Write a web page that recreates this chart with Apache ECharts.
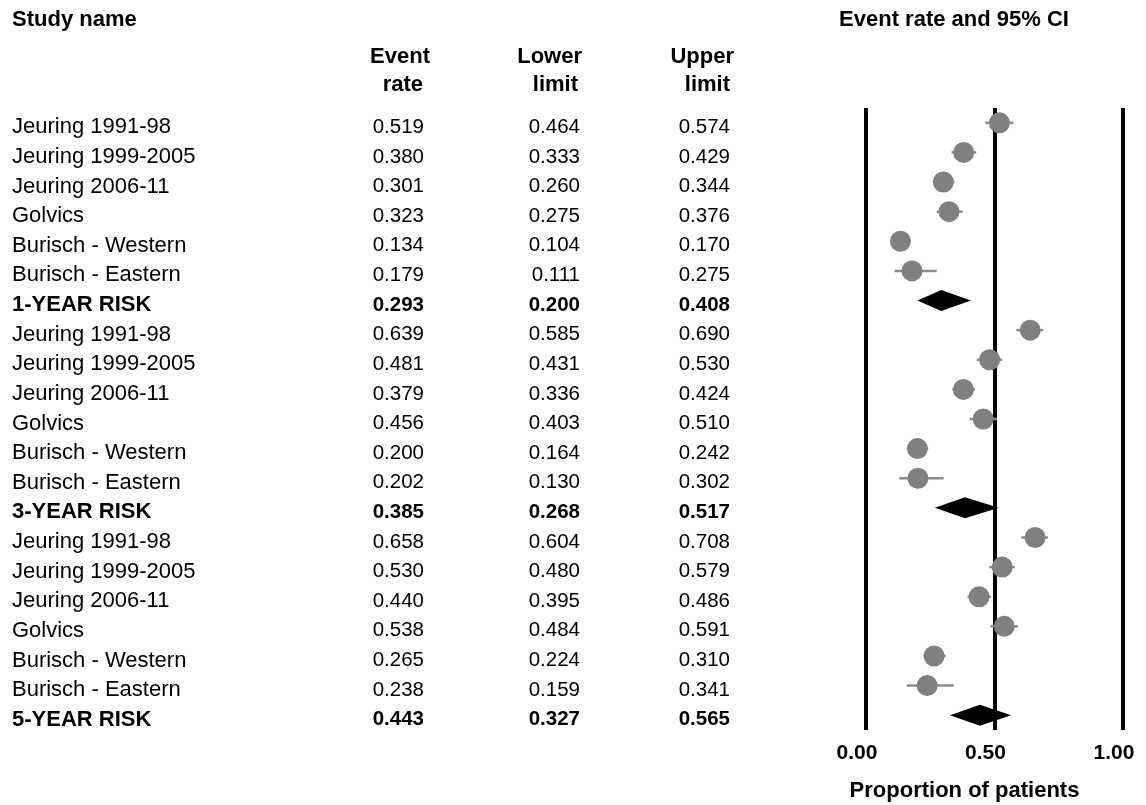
<!DOCTYPE html>
<html>
<head>
<meta charset="utf-8">
<script src="https://cdn.jsdelivr.net/npm/echarts@6/dist/echarts.min.js"></script>
<style>
html,body{margin:0;padding:0;background:#fff;}
#chart{width:1146px;height:805px;}
</style>
</head>
<body>
<div id="chart"></div>
<script>
const studyNames = [
  "Jeuring 1991-98","Jeuring 1999-2005","Jeuring 2006-11","Golvics","Burisch - Western","Burisch - Eastern","1-YEAR RISK",
  "Jeuring 1991-98","Jeuring 1999-2005","Jeuring 2006-11","Golvics","Burisch - Western","Burisch - Eastern","3-YEAR RISK",
  "Jeuring 1991-98","Jeuring 1999-2005","Jeuring 2006-11","Golvics","Burisch - Western","Burisch - Eastern","5-YEAR RISK"
];
const isSummary = [0,0,0,0,0,0,1, 0,0,0,0,0,0,1, 0,0,0,0,0,0,1];
const eventRate = [0.519,0.380,0.301,0.323,0.134,0.179,0.293, 0.639,0.481,0.379,0.456,0.200,0.202,0.385, 0.658,0.530,0.440,0.538,0.265,0.238,0.443];
const lowerLimit = [0.464,0.333,0.260,0.275,0.104,0.111,0.200, 0.585,0.431,0.336,0.403,0.164,0.130,0.268, 0.604,0.480,0.395,0.484,0.224,0.159,0.327];
const upperLimit = [0.574,0.429,0.344,0.376,0.170,0.275,0.408, 0.690,0.530,0.424,0.510,0.242,0.302,0.517, 0.708,0.579,0.486,0.591,0.310,0.341,0.565];
const xTicks = [0, 0.5, 1];

const FONT = "'Liberation Sans', Arial, Helvetica, sans-serif";
const FS_NAME = 22;
const FS_NUM = 20.5;
const FS_HDR = 22;

const chart = echarts.init(document.getElementById('chart'), null, {renderer: 'canvas'});

const rows = studyNames.map((n, i) => [eventRate[i], i, lowerLimit[i], upperLimit[i], isSummary[i]]);

function renderRow(params, api) {
  const i = api.value(1);
  const est = api.coord([api.value(0), i]);
  const lo = api.coord([api.value(2), i]);
  const hi = api.coord([api.value(3), i]);
  const summ = api.value(4) === 1;
  const y = est[1];
  const ty = y + 4.5;
  const weight = summ ? 'bold' : 'normal';
  const fontName = weight + ' ' + FS_NAME + 'px ' + FONT;
  const fontNum = weight + ' ' + FS_NUM + 'px ' + FONT;
  const children = [];
  if (summ) {
    const h = 10.5;
    children.push({
      type: 'polygon',
      shape: {points: [[lo[0], y], [est[0], y - h], [hi[0], y], [est[0], y + h]]},
      style: {fill: '#000'}
    });
  } else {
    children.push({
      type: 'line',
      shape: {x1: lo[0], y1: y, x2: hi[0], y2: y},
      style: {stroke: '#8c8c8c', lineWidth: 2.5}
    });
    children.push({
      type: 'circle',
      shape: {cx: est[0], cy: y, r: 10.5},
      style: {fill: '#808080'}
    });
  }
  const idx = params.dataIndex;
  children.push({type: 'text', style: {text: studyNames[idx], x: 12, y: ty, font: fontName, fill: '#000', align: 'left', verticalAlign: 'middle'}});
  children.push({type: 'text', style: {text: eventRate[idx].toFixed(3), x: 424, y: ty, font: fontNum, fill: '#000', align: 'right', verticalAlign: 'middle'}});
  children.push({type: 'text', style: {text: lowerLimit[idx].toFixed(3), x: 580, y: ty, font: fontNum, fill: '#000', align: 'right', verticalAlign: 'middle'}});
  children.push({type: 'text', style: {text: upperLimit[idx].toFixed(3), x: 730, y: ty, font: fontNum, fill: '#000', align: 'right', verticalAlign: 'middle'}});
  return {type: 'group', children: children};
}

const boldFont = 'bold ' + FS_HDR + 'px ' + FONT;
function hdr(text, x, y, align) {
  return {type: 'text', x: x, y: y, style: {text: text, font: boldFont, fill: '#000', align: align || 'right', verticalAlign: 'middle'}};
}

chart.setOption({
  animation: false,
  backgroundColor: '#fff',
  grid: {left: 866, right: 23, top: 108, bottom: 75, containLabel: false, outerBoundsMode: 'none'},
  xAxis: {
    type: 'value', min: 0, max: 1, interval: 0.5,
    axisLine: {show: false}, axisTick: {show: false},
    splitLine: {show: true, showMinLine: true, showMaxLine: true, lineStyle: {color: '#000', width: 4}},
    axisLabel: {
      formatter: v => v.toFixed(2), color: '#000', fontFamily: FONT, fontWeight: 'bold', fontSize: 21,
      margin: 13, padding: [0, 18, 0, 0]
    },
    name: 'Proportion of patients', nameLocation: 'middle', nameGap: 50,
    nameTextStyle: {color: '#000', fontFamily: FONT, fontWeight: 'bold', fontSize: 22, padding: [0, 60, 0, 0]}
  },
  yAxis: {
    type: 'category', inverse: true, data: studyNames.map((n, i) => i),
    show: false
  },
  graphic: [
    hdr('Study name', 12, 20, 'left'),
    hdr('Event rate and 95% CI', 954, 20, 'center'),
    hdr('Event', 430, 57), hdr('rate', 423, 85),
    hdr('Lower', 582, 57), hdr('limit', 578, 85),
    hdr('Upper', 734, 57), hdr('limit', 730, 85)
  ],
  series: [{
    type: 'custom',
    clip: false,
    renderItem: renderRow,
    encode: {x: 0, y: 1},
    data: rows,
    z: 5
  }]
});
</script>
</body>
</html>
